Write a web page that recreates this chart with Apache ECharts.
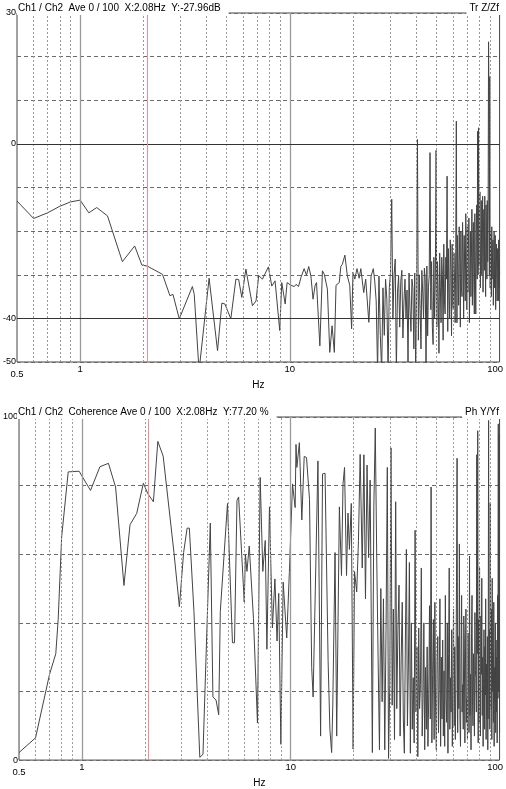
<!DOCTYPE html>
<html>
<head>
<meta charset="utf-8">
<script src="https://cdn.jsdelivr.net/npm/echarts@6/dist/echarts.min.js"></script>
<style>
    html, body { margin: 0; padding: 0; background: #fff; }
    #chart { width: 506px; height: 789px; }
</style>
</head>
<body>
<div id="chart"></div>
<script>
    // transfer function Tr Z/Zf (dB) - frequency bins
    var freqTr = [
        0.5, 0.6, 0.7, 0.8, 0.9, 1.0, 1.1, 1.2, 1.35, 1.59,
        1.82, 1.97, 2.09, 2.2, 2.47, 2.68, 2.77, 2.97, 3.43, 3.5,
        3.69, 4.12, 4.52, 4.74, 4.9, 5.23, 5.53, 5.7, 5.9, 6.17,
        6.3, 6.63, 6.9, 7.1, 7.4, 7.9, 8.2, 8.5, 8.95, 9.15,
        9.5, 9.7, 10.1, 10.5, 10.7, 11.0, 11.3, 11.7, 12.0, 12.3,
        12.6, 12.9, 13.2, 13.4, 13.9, 14.3, 14.6, 15.1, 15.5, 15.9,
        16.3, 16.6, 17.2, 17.5, 17.8, 18.3, 18.8, 19.3, 19.7, 20.0,
        20.4, 20.9, 21.4, 21.8, 22.5, 23.0, 23.8, 24.4,
        25.0, 25.4, 25.8, 26.2, 26.6, 27.0, 27.4, 27.8, 28.2, 28.6,
        29.0, 29.4, 29.8, 30.2, 30.6, 31.0, 31.4, 31.8, 32.2, 32.6,
        33.0, 33.4, 33.8, 34.2, 34.6, 35.0, 35.4, 35.8, 36.2, 36.6,
        37.0, 37.4, 37.8, 38.2, 38.6, 39.0, 39.4, 39.8, 40.2, 40.6,
        41.0, 41.4, 41.8, 42.2, 42.6, 43.0, 43.4, 43.8, 44.2, 44.6,
        45.0, 45.4, 45.8, 46.2, 46.6, 47.0, 47.4, 47.8, 48.2, 48.6,
        49.0, 49.4, 49.8, 50.2, 50.6, 51.0, 51.4, 51.8, 52.2, 52.6,
        53.0, 53.4, 53.8, 54.2, 54.6, 55.0, 55.4, 55.8, 56.2, 56.6,
        57.0, 57.4, 57.8, 58.2, 58.6, 59.0, 59.4, 59.8, 60.2, 60.6,
        61.0, 61.4, 61.8, 62.2, 62.6, 63.0, 63.4, 63.8, 64.2, 64.6,
        65.0, 65.4, 65.8, 66.2, 66.6, 67.0, 67.4, 67.8, 68.2, 68.6,
        69.0, 69.4, 69.8, 70.2, 70.6, 71.0, 71.4, 71.8, 72.2, 72.6,
        73.0, 73.4, 73.8, 74.2, 74.6, 75.0, 75.4, 75.8, 76.2, 76.6,
        77.0, 77.4, 77.8, 78.2, 78.6, 79.0, 79.4, 79.8, 80.2, 80.6,
        81.0, 81.4, 81.8, 82.2, 82.6, 83.0, 83.4, 83.8, 84.2, 84.6,
        85.0, 85.4, 85.8, 86.2, 86.6, 87.0, 87.4, 87.8, 88.2, 88.6,
        89.0, 89.4, 89.8, 90.2, 90.6, 91.0, 91.4, 91.8, 92.2, 92.6,
        93.0, 93.4, 93.8, 94.2, 94.6, 95.0, 95.4, 95.8, 96.2, 96.6,
        97.0, 97.4, 97.8, 98.2, 98.6, 99.0, 99.4, 99.8, 100
    ];
    var magTr = [
        -13.1, -17.1, -15.8, -14.3, -13.3, -12.9, -15.8, -14.6, -16.5, -27,
        -23.4, -27.8, -28, -28.6, -29.9, -34.8, -34.5, -40.1, -32.7, -34.5,
        -52, -30.8, -47.4, -36.5, -36.7, -40.1, -31, -31.1, -35.2, -28.7,
        -28.6, -37.1, -36, -30.2, -31, -28.2, -32.6, -31.4, -42.8, -31.8,
        -36.7, -31.8, -32.4, -32.7, -32.2, -32.7, -30.6, -28.6, -30.1, -28.1,
        -30.3, -35.6, -32.4, -31.8, -46.3, -29.1, -29.9, -33.3, -47.8, -41.7,
        -47.8, -32.4, -31.8, -28.1, -27.6, -25.5, -30.3, -32.4, -42.4, -29.4,
        -31, -28.6, -30.8, -28.6, -34.1, -31, -40.9, -30.3,
        -28.6, -31.5, -36, -52, -30.3, -44, -52, -33, -43.9, -31,
        -35.6, -52, -33, -29.5, -12.7, -40.2, -30, -26.4, -52, -34,
        -30.3, -42, -31.5, -29, -44.5, -36, -31, -40, -33.5, -50,
        -29.6, -38, -43, -31, -33, -47, -29.6, -52, -35, 1.0,
        -45, -30, -38, -47, -29, -34, -40, -28.5, -31, -52,
        -28, -44, -33, -30, -2, -38, -27, -42, -46, -26,
        -40, -31, -1.5, -42, -27, -35, -48, -25, -33, -41,
        -26, -30, -45, -23, -36, -39, -26, -31, -7.4, -43,
        -24, -34, -40, -22, -29, -44, -23, -37, -38, -25,
        -32, -41, -24, 5.2, -41, -21, -30, -37, -19, -27,
        -42, -20, -33, -35, -18, -25, -40, -21, -29, -36,
        -16, -27, -38, -19, -34, -24, -17, -41, -31, -20,
        -35, -26, -15, -37, -22, -18, -33, -39, -16, -28,
        -39, -20, -14, -31, 2.9, -30, 3.7, -28, -18, -11,
        -33, -22, -13, -30, -25, -12, -34, -19, -15, -29,
        -12, -24, -35, -14, -21, -31, -13, -27, -16, 23.4,
        9.4, -30, 15.4, -33, -20, -27, -35, -19, -31, -25,
        -22, -37, -28, -20, -33, -24, -21, -38, -29, -23,
        -31, -36, -24, -28, -36, -22, -33, -27, -30
    ];

    // coherence (%)
    var freqCoh = [
        0.5, 0.6, 0.7, 0.75, 0.77, 0.8, 0.86, 0.97, 1.1, 1.22,
        1.34, 1.45, 1.59, 1.7, 1.83, 1.97, 2.07, 2.2, 2.31, 2.45,
        2.76, 2.93, 3.07, 3.19, 3.27, 3.44, 3.67, 3.8, 3.97, 4.12,
        4.24, 4.39, 4.52, 4.6, 4.98, 5.26, 5.38, 5.53, 5.63, 5.99,
        6.07, 6.17, 6.33, 6.63, 6.93, 7.14, 7.35, 7.55, 7.69, 7.91,
        8.17, 8.4, 8.6, 8.76, 8.97, 9.2, 9.57, 9.85, 10.2, 10.5,
        10.6, 10.7, 11.0, 11.3, 11.6, 11.9, 12.3, 12.6, 12.8, 13.5,
        13.9, 14.2, 14.6, 15.1, 15.4, 15.7, 15.9, 16.3, 16.6, 17.1,
        17.5, 17.8, 18.1, 18.5, 18.8, 19.1, 19.5, 19.9, 20.2, 20.7,
        21.1, 21.5, 22.0, 22.4, 22.8, 23.2, 23.6, 24.0, 24.6,
        25.0, 25.4, 25.8, 26.2, 26.6, 27.0, 27.4, 27.8, 28.2, 28.6,
        29.0, 29.4, 29.8, 30.2, 30.6, 31.0, 31.4, 31.8, 32.2, 32.6,
        33.0, 33.4, 33.8, 34.2, 34.6, 35.0, 35.4, 35.8, 36.2, 36.6,
        37.0, 37.4, 37.8, 38.2, 38.6, 39.0, 39.4, 39.8, 40.2, 40.6,
        41.0, 41.4, 41.8, 42.2, 42.6, 43.0, 43.4, 43.8, 44.2, 44.6,
        45.0, 45.4, 45.8, 46.2, 46.6, 47.0, 47.4, 47.8, 48.2, 48.6,
        49.0, 49.4, 49.8, 50.2, 50.6, 51.0, 51.4, 51.8, 52.2, 52.6,
        53.0, 53.4, 53.8, 54.2, 54.6, 55.0, 55.4, 55.8, 56.2, 56.6,
        57.0, 57.4, 57.8, 58.2, 58.6, 59.0, 59.4, 59.8, 60.2, 60.6,
        61.0, 61.4, 61.8, 62.2, 62.6, 63.0, 63.4, 63.8, 64.2, 64.6,
        65.0, 65.4, 65.8, 66.2, 66.6, 67.0, 67.4, 67.8, 68.2, 68.6,
        69.0, 69.4, 69.8, 70.2, 70.6, 71.0, 71.4, 71.8, 72.2, 72.6,
        73.0, 73.4, 73.8, 74.2, 74.6, 75.0, 75.4, 75.8, 76.2, 76.6,
        77.0, 77.4, 77.8, 78.2, 78.6, 79.0, 79.4, 79.8, 80.2, 80.6,
        81.0, 81.4, 81.8, 82.2, 82.6, 83.0, 83.4, 83.8, 84.2, 84.6,
        85.0, 85.4, 85.8, 86.2, 86.6, 87.0, 87.4, 87.8, 88.2, 88.6,
        89.0, 89.4, 89.8, 90.2, 90.6, 91.0, 91.4, 91.8, 92.2, 92.6,
        93.0, 93.4, 93.8, 94.2, 94.6, 95.0, 95.4, 95.8, 96.2, 96.6,
        97.0, 97.4, 97.8, 98.2, 98.6, 99.0, 99.4, 99.8, 100
    ];
    var cohVal = [
        2.2, 6.5, 25, 31, 41, 65, 84, 84.2, 78.6, 85.5,
        86.5, 79.6, 50.9, 68.6, 71.9, 80.7, 77.6, 75.3, 92.9, 88.6,
        60.5, 44.7, 60.5, 67.6, 67.6, 43.3, 0.8, 1.7, 38.5, 69.1,
        18.4, 17.5, 13.2, 43.3, 74.8, 34.2, 34.2, 75.7, 76.7, 46.1,
        60, 55, 62.4, 41.3, 10.8, 82.4, 55, 64, 32.3, 73.8,
        38.5, 52.8, 34.7, 48.6, 4.6, 51.9, 35.6, 54.7, 80.5, 73.6,
        92, 85.3, 92.5, 70, 88.5, 88.2, 76, 27, 18.4, 87.2,
        7, 83.4, 83.6, 29, 8.9, 2.2, 16, 60.5, 7, 73.8,
        53.8, 80.5, 85.3, 53.8, 72, 61.4, 74.8, 3.2, 55, 49,
        64, 89.1, 56, 89, 47, 86, 59, 81.6, 2.2,
        73.8, 96.8, 60, 30, 3, 50, 17, 47, 3, 38,
        85.3, 0.5, 22, 91, 16, 44, 6, 75.3, 15, 38,
        51, 7, 30, 46, 12, 2, 35, 61.4, 10, 28,
        57.6, 2, 40, 9, 24, 5, 67, 14, 33, 1,
        38.5, 15, 22, 56, 7, 18, 40, 3, 27, 9,
        33, 4, 19, 45, 12, 79.6, 5, 25, 41, 6,
        46, 14, 3, 29, 36, 8, 21, 47, 4, 30,
        12, 35, 7, 26, 4, 48, 18, 11, 40, 2,
        31, 56, 9, 24, 14, 38, 4, 27, 44, 10,
        33, 6, 21, 52, 88, 8, 36, 15, 63, 12,
        4, 30, 48, 14, 22, 9, 42, 35, 5, 26,
        44, 11, 18, 6, 37, 29, 8, 59.5, 13, 25,
        3, 37, 48, 16, 10, 31, 20, 7, 43, 26,
        24, 14, 89, 31, 96, 5, 41, 11, 56, 18,
        7, 42, 25, 53, 13, 30, 4, 22, 38, 9,
        33, 19, 47, 6, 28, 12, 36, 3, 22, 99,
        12, 38, 9, 75, 24, 15, 44, 6, 53, 20,
        31, 11, 46, 4, 27, 17, 40, 8, 35, 14,
        30, 5, 48, 18, 98, 20, 95, 26, 8
    ];

    // grid line positions (Hz) and cursor
    var dashHz = [0.6, 0.7, 0.8, 0.9, 2, 3, 4, 5, 6, 7, 8, 9, 20, 30, 40, 50, 60, 70, 80, 90];
    var decadeHz = [1, 10];
    var cursorHz = 2.08;
    var trLabels = [30, 0, -40, -50];
    var trSolid = [0, -40];
    var cohLabels = [100, 0];

    var FONT = '"Liberation Sans", Arial, sans-serif';

    function pairs(xs, ys) {
        var out = [];
        for (var i = 0; i < xs.length; i++) out.push([xs[i], ys[i]]);
        return out;
    }

    function vLines() {
        var d = [];
        dashHz.forEach(function (f) {
            d.push({ xAxis: f, lineStyle: { type: [2, 2], color: '#9a9a9a', width: 1 } });
        });
        decadeHz.forEach(function (f) {
            d.push({ xAxis: f, lineStyle: { type: 'solid', color: '#9a9a9a', width: 1.3 } });
        });
        return d;
    }

    // plain series carrying only a markLine (grid lines / cursor)
    function markSeries(name, idx, marks, z) {
        return {
            name: name, type: 'line', xAxisIndex: idx, yAxisIndex: idx, data: [], z: z, silent: true,
            markLine: { silent: true, symbol: ['none', 'none'], label: { show: false }, animation: false, data: marks }
        };
    }

    function cursorMarks() {
        return [{ xAxis: cursorHz, lineStyle: { type: 'solid', color: '#eb8f8f', width: 1 } }];
    }

    function xAxisOf(idx, gap) {
        return {
            type: 'log', logBase: 10, gridIndex: idx, min: 0.5, max: 100,
            name: 'Hz', nameLocation: 'middle', nameGap: gap,
            nameTextStyle: { fontSize: 10, color: '#000', fontFamily: FONT },
            axisLine: { show: false }, axisTick: { show: false }, splitLine: { show: false },
            axisLabel: {
                fontSize: 9.5, color: '#000', fontFamily: FONT, margin: 2,
                formatter: function (v) {
                    if (Math.abs(v - 0.5) < 1e-6) return '{lo|0.5}';
                    if (Math.abs(v - 100) < 1e-6) return '{hi|100}';
                    return String(Math.round(v * 100) / 100);
                },
                rich: {
                    lo: { fontSize: 9.5, fontFamily: FONT, color: '#000', padding: [5, 0, 0, 0] },
                    hi: { fontSize: 9.5, fontFamily: FONT, color: '#000', padding: [0, 9, 0, 0] }
                }
            }
        };
    }

    function yAxisOf(idx, min, max, step, shown) {
        return {
            type: 'value', gridIndex: idx, min: min, max: max, interval: step,
            axisLine: { show: false }, axisTick: { show: false },
            splitLine: { show: true, lineStyle: { color: '#6a6a6a', type: [4, 3], width: 1 } },
            axisLabel: {
                fontSize: 9, color: '#000', fontFamily: FONT, margin: 1,
                formatter: function (v) { return shown.indexOf(v) >= 0 ? String(v) : ''; }
            }
        };
    }

    var titleStyle = { fontSize: 10, fontWeight: 'normal', color: '#000', fontFamily: FONT, lineHeight: 12 };

    var myChart = echarts.init(document.getElementById('chart'), null, { renderer: 'canvas' });
    var trMarks = vLines();
    trSolid.forEach(function (v) {
        trMarks.push({ yAxis: v, lineStyle: { type: 'solid', color: '#333', width: 1 } });
    });

    var option = {
        animation: false,
        backgroundColor: '#fff',
        title: [
            { text: 'Ch1 / Ch2  Ave 0 / 100  X:2.08Hz  Y:-27.96dB', left: 17, top: 0, padding: [2, 8, 1, 1],
              backgroundColor: '#fff', textStyle: titleStyle },
            { text: 'Tr Z/Zf', right: 6, top: 0, padding: [2, 1, 1, 3], backgroundColor: '#fff', textStyle: titleStyle },
            { text: 'Ch1 / Ch2  Coherence Ave 0 / 100  X:2.08Hz  Y:77.20 %', left: 17, top: 404, padding: [2, 8, 1, 1],
              backgroundColor: '#fff', textStyle: titleStyle },
            { text: 'Ph Y/Yf', right: 6, top: 404, padding: [2, 1, 1, 3], backgroundColor: '#fff', textStyle: titleStyle }
        ],
        grid: [
            { left: 17, right: 6, top: 13, height: 349, show: true, borderColor: '#444', borderWidth: 1, backgroundColor: 'transparent' },
            { left: 17, right: 6, top: 417, height: 349, show: true, borderColor: '#444', borderWidth: 1, backgroundColor: 'transparent' }
        ],
        xAxis: [xAxisOf(0, 12), xAxisOf(1, 11)],
        yAxis: [yAxisOf(0, -50, 30, 10, trLabels), yAxisOf(1, 0, 100, 20, cohLabels)],
        series: [
            markSeries('gridTr', 0, trMarks, 1),
            markSeries('cursorTr', 0, cursorMarks(), 2),
            {
                name: 'Tr Z/Zf', type: 'line', xAxisIndex: 0, yAxisIndex: 0, z: 3,
                data: pairs(freqTr, magTr), showSymbol: false, clip: true,
                lineStyle: { color: '#444', width: 1 }
            },
            markSeries('gridCoh', 1, vLines(), 1),
            markSeries('cursorCoh', 1, cursorMarks(), 2),
            {
                name: 'Coherence', type: 'line', xAxisIndex: 1, yAxisIndex: 1, z: 3,
                data: pairs(freqCoh, cohVal), showSymbol: false, clip: true,
                lineStyle: { color: '#444', width: 1 }
            }
        ]
    };
    myChart.setOption(option);
</script>
</body>
</html>
